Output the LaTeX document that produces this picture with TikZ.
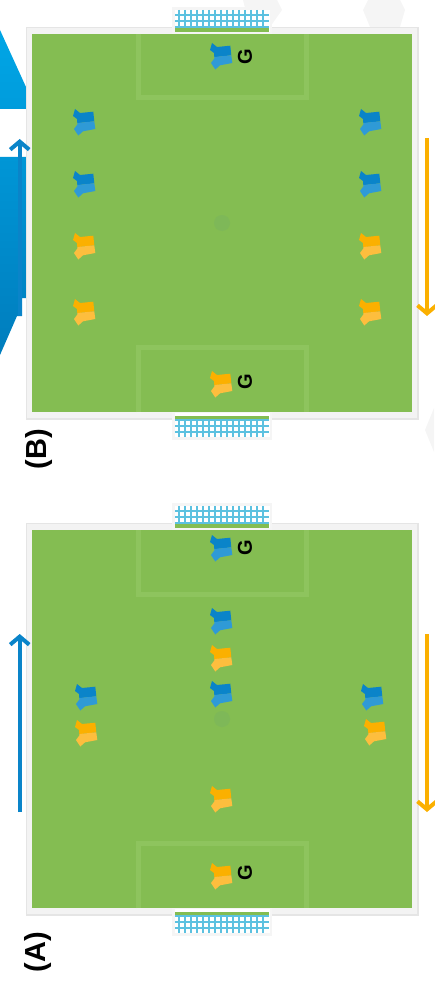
\documentclass[tikz,border=0pt]{standalone}
\usepackage{fontspec}
\setmainfont{Liberation Sans}
\usetikzlibrary{arrows.meta,positioning}

\definecolor{grassgreen}{HTML}{84BD52}
\definecolor{linegreen}{HTML}{8EC45E}
\definecolor{spotgreen}{HTML}{7EB858}
\definecolor{netblue}{HTML}{5CC1E0}
\definecolor{teamblue}{HTML}{0A84C9}
\definecolor{teamblueb}{HTML}{2F9AD6}
\definecolor{teamgold}{HTML}{FBB000}
\definecolor{teamgoldb}{HTML}{FDBE3E}
\definecolor{framegrey}{HTML}{F3F3F3}
\definecolor{frameedge}{HTML}{E5E5E5}
\definecolor{hexgrey}{HTML}{F5F5F5}
\definecolor{backtop}{HTML}{00A6E6}
\definecolor{backbot}{HTML}{007DBD}

\tikzset{
  bluearrow/.style={-{Straight Barb[length=8pt,width=19pt]},line width=4pt,draw=teamblue},
  goldarrow/.style={-{Straight Barb[length=8pt,width=19pt]},line width=4pt,draw=teamgold},
  keeper/.style={font=\fontsize{20}{20}\selectfont\bfseries,rotate=90,inner sep=0pt},
  panel/.style={font=\fontsize{29}{29}\selectfont\bfseries,rotate=90,inner sep=0pt},
  boxline/.style={draw=linegreen,line width=5pt},
  netline/.style={draw=netblue,line width=1.3pt},
  pics/shirt/.style 2 args={code={
    \fill[#1] (-11,-6) -- (-9,-13) -- (-4,-9) -- (9.3,-10.3) -- (10.3,-0.7)
      -- (-6.7,1.2) -- (-7,-3) -- cycle;
    \fill[#2] (-6.7,1) -- (10.3,-0.7) -- (11.3,7) -- (-1,9.3) -- (-5.7,13.5) -- (-10,7) -- (-6.7,2.5) -- cycle;
  }},
  pics/blueshirt/.style={/tikz/pics/shirt={teamblue}{teamblueb}},
  pics/goldshirt/.style={/tikz/pics/shirt={teamgold}{teamgoldb}},
  pics/pitch/.style={code={
    % frame and grass
    \fill[framegrey,draw=frameedge,line width=1.5pt] (26.5,27.5) rectangle (418,419);
    \fill[grassgreen] (32,34) rectangle (412,412);
    % penalty boxes
    \draw[boxline] (138.5,34) -- (138.5,98) -- (306,98) -- (306,34);
    \draw[boxline] (138.5,412) -- (138.5,347.5) -- (306,347.5) -- (306,412);
    \fill[spotgreen] (222,223) circle[radius=8];
    % top goal
    \fill[hexgrey] (172,7) rectangle (272,34);
    \fill[white] (175,10) rectangle (270,32);
    \fill[grassgreen] (175,27) rectangle (269,32);
    \foreach \x in {0,...,14} {\draw[netline] (179+6*\x,10) -- (179+6*\x,27);}
    \foreach \y in {15,21,27} {\draw[netline] (175,\y) -- (269,\y);}
    % bottom goal
    \fill[hexgrey] (172,412) rectangle (272,440);
    \fill[white] (175,413) rectangle (270,437);
    \fill[grassgreen] (175,415.5) rectangle (269,419);
    \foreach \x in {0,...,14} {\draw[netline] (179+6*\x,419) -- (179+6*\x,437);}
    \foreach \y in {420,426,432} {\draw[netline] (175,\y) -- (269,\y);}
  }},
}

\begin{document}
\begin{tikzpicture}[x=1pt,y=-1pt]
  \useasboundingbox (0,0) rectangle (434,987);

  % backdrop
  \path[top color=backtop,bottom color=backbot]
    (0,30) -- (26,87) -- (26,109) -- (0,109) -- cycle
    (0,157) -- (26,157) -- (26,298) -- (22,298) -- (22,316) -- (17,316) -- (0,355) -- cycle;
  \fill[hexgrey] (243,0) -- (277,0) -- (282,10) -- (270,27) -- (250,27) -- cycle;
  \fill[hexgrey] (368,0) -- (400,0) -- (405,10) -- (400,27) -- (370,27) -- (363,10) -- cycle;
  \fill[hexgrey] (434,408) -- (425,430) -- (434,452) -- cycle;

  % panel B
  \pic (pitchB) at (0,0) {pitch};
  \pic (keepBtop) at (221,56) {blueshirt};
  \pic (keepBbot) at (221,384) {goldshirt};
  \pic (bl1) at (84,122) {blueshirt};
  \pic (bl2) at (84,184) {blueshirt};
  \pic (gl1) at (84,246) {goldshirt};
  \pic (gl2) at (84,312) {goldshirt};
  \pic (br1) at (370,122) {blueshirt};
  \pic (br2) at (370,184) {blueshirt};
  \pic (gr1) at (370,246) {goldshirt};
  \pic (gr2) at (370,312) {goldshirt};
  \node[keeper] (gBtop) at (245,57) {G};
  \node[keeper] (gBbot) at (245,382) {G};
  \node[panel] (labelB) at (39,449) {(B)};

  \coordinate (blueBs) at (19.7,316);
  \coordinate (blueBe) at (19.7,139);
  \coordinate (goldBs) at (427,138);
  \coordinate (goldBe) at (427,316);
  \draw[bluearrow] (blueBs) -- (blueBe);
  \draw[goldarrow] (goldBs) -- (goldBe);

  % panel A
  \pic (pitchA) at (0,496) {pitch};
  \pic (keepAtop) at (221,548) {blueshirt};
  \pic (keepAbot) at (221,876) {goldshirt};
  \pic (mb1) at (221,621) {blueshirt};
  \pic (mg1) at (221,658) {goldshirt};
  \pic (mb2) at (221,694) {blueshirt};
  \pic (mg2) at (221,799) {goldshirt};
  \pic (lb) at (86,697) {blueshirt};
  \pic (lg) at (86,733) {goldshirt};
  \pic (rb) at (372,697) {blueshirt};
  \pic (rg) at (375,732) {goldshirt};
  \node[keeper] (gAtop) at (245,548) {G};
  \node[keeper] (gAbot) at (245,873) {G};
  \node[panel] (labelA) at (38,952) {(A)};

  \coordinate (blueAs) at (19.7,812);
  \coordinate (blueAe) at (19.7,634);
  \coordinate (goldAs) at (427,634);
  \coordinate (goldAe) at (427,812);
  \draw[bluearrow] (blueAs) -- (blueAe);
  \draw[goldarrow] (goldAs) -- (goldAe);
\end{tikzpicture}
\end{document}
